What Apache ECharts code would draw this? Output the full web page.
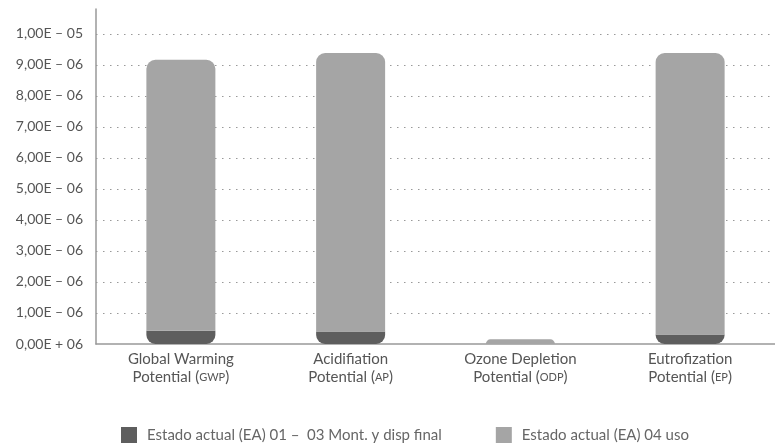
<!DOCTYPE html>
<html>
<head>
<meta charset="utf-8">
<script src="https://cdn.jsdelivr.net/npm/echarts@6/dist/echarts.min.js"></script>
<style>
  html, body { margin: 0; padding: 0; background: #fff; }
  #main { width: 775px; height: 444px; }
</style>
</head>
<body>
<div id="main"></div>
<script>
// categories (label line 1, small caps acronym)
const catTitles = ["Global Warming", "Acidifiation", "Ozone Depletion", "Eutrofization"];
const catCodes = ["GWP", "AP", "ODP", "EP"];

// series values
const seriesNames = ["Estado actual (EA) 01 –  03 Mont. y disp final", "Estado actual (EA) 04 uso"];
const montaje = [4.3e-7, 4.0e-7, 0, 3.1e-7];
const uso = [8.73e-6, 8.98e-6, 1.5e-7, 9.07e-6];

const yMax = 1.08e-5;
const yStep = 1e-6;

const categories = catTitles.map((t, i) => t + "|" + catCodes[i]);

function fmtY(v) {
  if (v === 0) return "0,00E + 06";
  const s = v.toExponential(2).split("e");
  const mant = s[0].replace(".", ",");
  const exp = Math.abs(parseInt(s[1], 10));
  return mant + "E – " + (exp < 10 ? "0" + exp : exp);
}

const myChart = echarts.init(document.getElementById("main"), null, { renderer: "canvas" });

const option = {
  animation: false,
  textStyle: { fontFamily: "Lato" },
  grid: { left: 96, right: -11, top: 9, bottom: 100, containLabel: false },
  xAxis: {
    type: "category",
    data: categories,
    axisLine: { lineStyle: { color: "#999", width: 1.5 } },
    axisTick: { show: false },
    axisLabel: {
      interval: 0,
      margin: 6,
      color: "#555",
      fontSize: 15,
      lineHeight: 18,
      formatter: (v) => {
        const p = v.split("|");
        return "{t|" + p[0] + "}\n{t|Potential (}{sc|" + p[1] + "}{t|)}";
      },
      rich: {
        t: { fontSize: 15, color: "#555", lineHeight: 18, fontFamily: "Lato" },
        sc: { fontSize: 11, color: "#555", lineHeight: 18, fontFamily: "Lato" }
      }
    }
  },
  yAxis: {
    type: "value",
    min: 0,
    max: yMax,
    interval: yStep,
    axisLine: { show: true, lineStyle: { color: "#999", width: 1.5 } },
    axisTick: { show: false },
    axisLabel: {
      margin: 13,
      color: "#555",
      fontSize: 14,
      showMaxLabel: false,
      formatter: fmtY
    },
    splitLine: {
      show: true,
      showMinLine: false,
      showMaxLine: false,
      lineStyle: { color: "#999", type: [1.5, 5.5], width: 1.2 }
    }
  },
  legend: {
    left: 116,
    top: 422,
    itemWidth: 16,
    itemHeight: 16,
    itemGap: 54,
    icon: "rect",
    textStyle: { color: "#666", fontSize: 15, padding: [0, 0, 0, 5] },
    data: seriesNames
  },
  series: [
    {
      name: seriesNames[0],
      type: "bar",
      stack: "total",
      barWidth: 69,
      data: montaje,
      itemStyle: { color: "#5e5e5e", borderRadius: [0, 0, 9, 9] }
    },
    {
      name: seriesNames[1],
      type: "bar",
      stack: "total",
      barWidth: 69,
      data: uso,
      itemStyle: { color: "#a5a5a5", borderRadius: [9, 9, 0, 0] }
    }
  ]
};

myChart.setOption(option);
</script>
</body>
</html>
